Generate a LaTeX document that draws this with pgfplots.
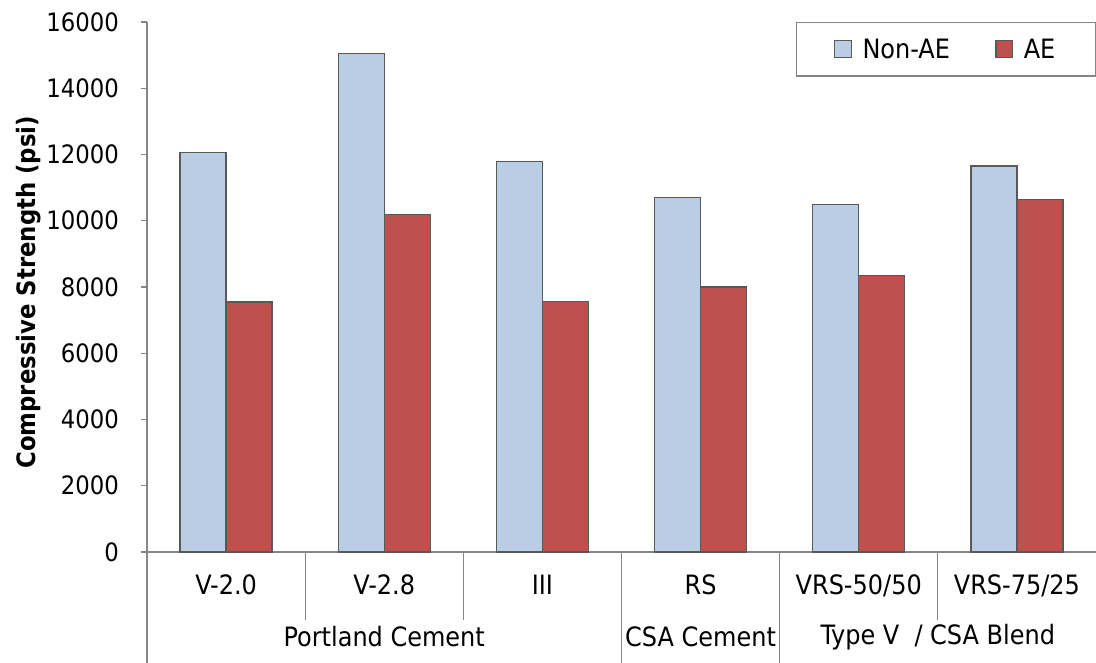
\documentclass[border=0pt]{standalone}
\usepackage{fontspec}
\setmainfont{DejaVu Sans Condensed}
\usepackage{pgfplots}
\pgfplotsset{compat=1.18}

\definecolor{nonae}{HTML}{B9CDE5}
\definecolor{ae}{HTML}{C0504D}
\definecolor{edge}{HTML}{595959}
\definecolor{axisgray}{HTML}{868686}
\newcommand{\lbl}{\fontsize{19}{22}\selectfont}
\newcommand{\txt}{\fontsize{20}{23}\selectfont}

\begin{document}
\begin{tikzpicture}
\begin{axis}[
  scale only axis,
  width=711.75pt, height=397.5pt,
  ybar=0pt, bar width=34.5pt,
  xmin=-0.5, xmax=5.5,
  ymin=0, ymax=16000,
  ytick={0,2000,...,16000},
  xtick={0,...,5},
  xticklabels={V-2.0,V-2.8,III,RS,VRS-50/50,VRS-75/25},
  major x tick style={draw=none},
  axis x line=bottom, axis y line=left,
  axis line style={draw=axisgray, line width=0.9pt, -},
  tick align=outside, major tick length=4.5pt,
  y tick style={draw=axisgray, line width=0.9pt},
  yticklabel style={font=\lbl, text=black, xshift=-13pt},
  xticklabel style={font=\txt, text=black, yshift=-9pt},
  /pgf/number format/assume math mode=true,
  /pgf/number format/fixed,
  /pgf/number format/1000 sep={},
  scaled y ticks=false,
  ylabel={Compressive Strength (psi)},
  every axis y label/.style={at={(axis description cs:-0.125,0.49)},
    rotate=90, anchor=center, font=\lbl\bfseries},
  legend style={at={(1,1)}, anchor=north east, draw=axisgray,
    line width=0.9pt, font=\txt, inner xsep=28pt, inner ysep=10pt,
    /tikz/every odd column/.append style={column sep=6pt},
    /tikz/every even column/.append style={column sep=32pt}},
  legend columns=2,
  legend image code/.code={\draw[#1, line width=0.9pt] (0pt,-6pt) rectangle (12.5pt,6.5pt);},
  clip=false,
]
\addplot[fill=nonae, draw=edge, line width=0.9pt]
  coordinates {(0,12050) (1,15050) (2,11800) (3,10700) (4,10480) (5,11650)};
\addplot[fill=ae, draw=edge, line width=0.9pt]
  coordinates {(0,7550) (1,10200) (2,7570) (3,8000) (4,8350) (5,10650)};
\legend{Non-AE, AE}

% separators between categories and groups
\draw[axisgray, line width=0.9pt] (axis cs:0.5,0) -- ([yshift=-51pt]axis cs:0.5,0);
\draw[axisgray, line width=0.9pt] (axis cs:1.5,0) -- ([yshift=-51pt]axis cs:1.5,0);
\draw[axisgray, line width=0.9pt] (axis cs:4.5,0) -- ([yshift=-51pt]axis cs:4.5,0);
\draw[axisgray, line width=0.9pt] (axis cs:-0.5,0) -- ([yshift=-84pt]axis cs:-0.5,0);
\draw[axisgray, line width=0.9pt] (axis cs:2.5,0) -- ([yshift=-84pt]axis cs:2.5,0);
\draw[axisgray, line width=0.9pt] (axis cs:3.5,0) -- ([yshift=-84pt]axis cs:3.5,0);
\node[font=\txt] at ([yshift=-63.75pt]axis cs:1,0) {Portland Cement};
\node[font=\txt] at ([yshift=-63.75pt]axis cs:3,0) {CSA Cement};
\node[font=\txt] at ([yshift=-63.75pt]axis cs:4.5,0) {Type V~ / CSA Blend};
\end{axis}
\pgfresetboundingbox
\path[use as bounding box] (-110.25pt,-83.25pt) rectangle (711.75pt,414pt);
\end{tikzpicture}
\end{document}
